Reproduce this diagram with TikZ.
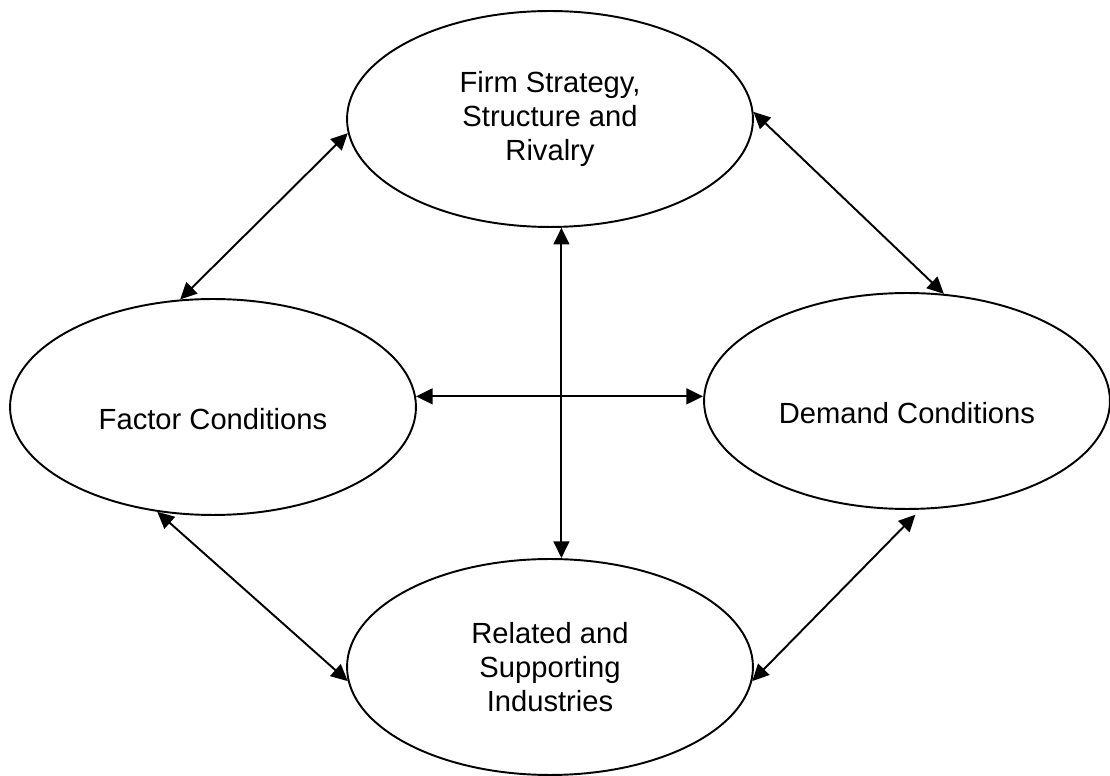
\documentclass[tikz,border=0pt]{standalone}
\usepackage{fontspec}
\setmainfont{Liberation Sans}
\usetikzlibrary{arrows.meta,shapes.geometric}

\tikzset{
  region/.style={ellipse, draw=black, line width=1.1pt, fill=white,
    minimum width=8.12cm, minimum height=4.32cm, inner sep=0pt,
    align=center, font=\fontsize{16.6pt}{19.4pt}\selectfont},
  lowtext/.style={text height=25.6pt, text depth=0pt},
  link/.style={line width=1.1pt,
    {Triangle[length=9.5pt,width=9pt]}-{Triangle[length=9.5pt,width=9pt]}}
}

\begin{document}
\begin{tikzpicture}[x=0.02cm, y=-0.02cm]
  \useasboundingbox (0,0) rectangle (1110,776);

  % the four determinants
  \node[region] (firm) at (550,119) {Firm Strategy,\\Structure and\\Rivalry};
  \node[region, lowtext] (factor) at (213,407) {Factor Conditions};
  \node[region, lowtext] (demand) at (907,401) {Demand Conditions};
  \node[region] (related) at (550,667) {Related and\\Supporting\\Industries};

  % two-way links around the diamond
  \draw[link] (factor.107) -- (firm.184);
  \draw[link] (firm.2) -- (demand.71);
  \draw[link] (factor.242) -- (related.184);
  \draw[link, shorten >=0.14cm] (related.356) -- (demand.277);

  % central cross
  \draw[link] (firm.276) -- (firm.276 |- related.north);
  \draw[link] (factor.3) -- (factor.3 -| demand.west);
\end{tikzpicture}
\end{document}
